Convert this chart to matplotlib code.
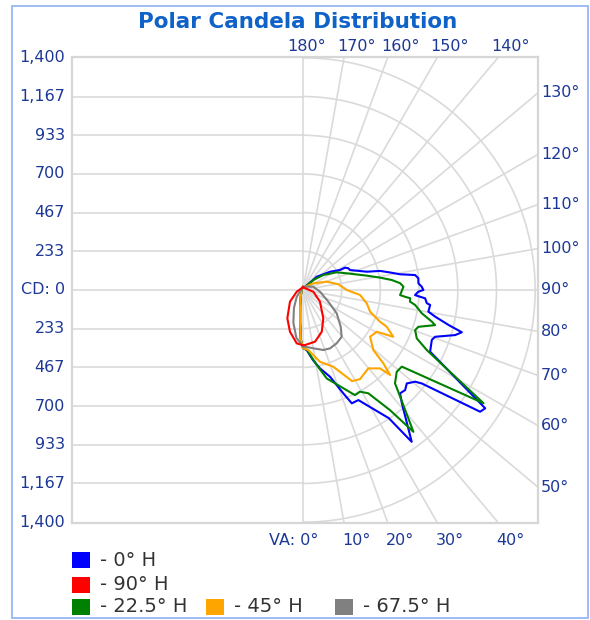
import numpy as np
import matplotlib
matplotlib.use("Agg")
import matplotlib.pyplot as plt
from matplotlib.patches import Rectangle

plt.rcParams["font.family"] = ["DejaVu Sans"]

# ring values (candela) and vertical-angle spokes
cd_rings = [233.33, 466.67, 700.0, 933.33, 1166.67, 1400.0]
va_ticks = list(range(0, 190, 10))

# vertical angle (deg) / candela; negative angles = opposite half plane
h0_va = [180, 146, 134, 124, 118.4, 118, 115.6, 113, 106, 103.9, 101.4, 99.2,
         97.6, 95.8, 93.3, 91.6, 90, 89.2, 87.4, 86.7, 86.1, 83.9, 83.3, 80.2,
         78.6, 76.5, 75.1, 73.5, 70.5, 68.8, 64.1, 57, 55.5, 51.8, 50.7, 48,
         45.6, 43.2, 41.1, 35.6, 33.8, 26.7, 23.3, 21.3, 17.3, 12.2, 8.1, 3.5,
         0, -2.5, -5, -10, -20, -40, -90, -180]
h0_cd = [18, 22, 115, 197, 254, 287, 303, 308, 400, 479, 535, 593,
         682, 699, 697, 716, 726, 696, 676, 707, 738, 751, 772, 767,
         813, 902, 991, 957, 845, 833, 852, 1310, 1296, 911, 873, 842,
         862, 855, 907, 1126, 930, 743, 744, 669, 548, 483, 427, 363,
         350, 300, 200, 100, 40, 15, 10, 18]

h90_va = [180, 150, 80.6, 55.5, 35.6, 24.2, 13.1, 2.1, 0, -6.7, -17.3, -29,
          -48, -74.9, -120, -180]
h90_cd = [18, 15, 63, 124, 210, 276, 320, 332, 333, 324, 264, 195,
          106, 39, 15, 18]

h225_va = [180, 146, 134.2, 126.5, 117.7, 110.9, 102.7, 99.1, 96.4, 94, 91.9,
           87, 86.2, 85.6, 83.8, 82.4, 78.9, 76.2, 75.1, 72.3, 70.3, 67, 64.1,
           57.9, 52.2, 48.9, 44.6, 43.1, 37.9, 35.9, 32.3, 29.3, 26.3, 15, 10,
           3.8, 0, -2.5, -5, -10, -20, -40, -90, -180]
h225_cd = [18, 22, 87, 152, 230, 282, 394, 471, 539, 587, 606,
           586, 617, 648, 649, 682, 730, 800, 824, 730, 718, 745, 830,
           1285, 754, 750, 790, 841, 1084, 894, 737, 703, 707, 552, 453,
           363, 350, 300, 195, 95, 38, 14, 10, 18]

h45_va = [180, 146, 123, 109.3, 99.2, 90, 85, 78.2, 72.1, 67.6, 66.3, 62.6,
          60.5, 55.1, 49.5, 47.6, 45.7, 44.5, 39.8, 32.6, 28.3, 21.6, 13.3, 5,
          0, -2.5, -5, -10, -20, -40, -90, -180]
h45_cd = [18, 22, 74, 152, 216, 264, 345, 393, 425, 502, 551, 613,
          511, 493, 558, 656, 734, 663, 615, 638, 624, 498, 445, 363,
          350, 300, 200, 100, 40, 15, 10, 18]

h675_va = [180, 146, 107.8, 84.3, 65.2, 55.3, 45.8, 39.6, 32.3, 24.8, 18.7,
           10, 2, 0, -8, -16.5, -27, -43, -90, -180]
h675_cd = [15, 25, 65, 103, 168, 247, 317, 366, 380, 388, 382,
           357, 342, 342, 290, 205, 120, 55, 12, 15]

series = [
    ("- 0° H", "#0000ff", h0_va, h0_cd),
    ("- 90° H", "#ff0000", h90_va, h90_cd),
    ("- 22.5° H", "#008000", h225_va, h225_cd),
    ("- 45° H", "#ffa500", h45_va, h45_cd),
    ("- 67.5° H", "#808080", h675_va, h675_cd),
]
draw_order = [0, 2, 3, 4, 1]

XMIN, XMAX, YMIN, YMAX = -1393, 1417, -1405, 1405
GRID = "#dadada"
TXT = "#1c3896"

fig = plt.figure(figsize=(5.9, 6.2), dpi=100)
fig.patches.append(Rectangle((12 / 590, 2 / 620), 576 / 590, 612 / 620,
                             transform=fig.transFigure, fill=False,
                             edgecolor="#8fb0f4", lw=1.2))
ax = fig.add_axes([72 / 590, 97 / 620, 466 / 590, 466 / 620])
ax.set_xlim(XMIN, XMAX)
ax.set_ylim(YMIN, YMAX)
ax.set_xticks([]); ax.set_yticks([])
for sp in ax.spines.values():
    sp.set_color("#d6d6d6"); sp.set_linewidth(1.6)

# left half: horizontal lines; right half: rings and spokes
for k in range(-5, 6):
    ax.plot([XMIN, 0], [k * cd_rings[0]] * 2, color=GRID, lw=1.2, zorder=1)
ax.plot([0, 0], [YMIN, YMAX], color=GRID, lw=1.2, zorder=1)
t = np.radians(np.linspace(0, 180, 200))
for r in cd_rings:
    ax.plot(r * np.sin(t), -r * np.cos(t), color=GRID, lw=1.2, zorder=1)
for a in va_ticks[1:-1]:
    ar = np.radians(a)
    ax.plot([0, 4000 * np.sin(ar)], [0, -4000 * np.cos(ar)], color=GRID,
            lw=1.2, zorder=1)

for i in draw_order:
    name, col, va, cd = series[i]
    va = np.radians(va); cd = np.asarray(cd, float)
    ax.plot(cd * np.sin(va), -cd * np.cos(va), color=col, lw=1.5, zorder=3)

# candela labels
for k in range(-6, 7):
    v = k * cd_rings[0]
    lab = "CD: 0" if k == 0 else f"{round(abs(v)):,}"
    ax.text(-1435, v, lab, ha="right", va="center", fontsize=11.5, color=TXT)

# vertical angle labels, placed where each spoke meets the frame
for a in va_ticks:
    ar = np.radians(a)
    s, c = np.sin(ar), -np.cos(ar)
    lab = f"{a}°"
    if a == 0:
        ax.text(90, YMIN - 103, "VA: 0°", ha="right", va="center",
                fontsize=11.5, color=TXT)
    elif a == 180:
        ax.text(20, YMAX + 62, lab, ha="center", va="center",
                fontsize=11.5, color=TXT)
    elif 50 <= a <= 130:
        ax.text(XMAX + 18, XMAX * c / s, lab, ha="left", va="center",
                fontsize=11.5, color=TXT)
    elif a > 130:
        ax.text(YMAX * s / c - 42, YMAX + 62, lab, ha="left",
                va="center", fontsize=11.5, color=TXT)
    else:
        ax.text(-YMIN * np.tan(ar) - 12, YMIN - 103, lab, ha="left",
                va="center", fontsize=11.5, color=TXT)

fig.text(298 / 590, 1 - 22 / 620, "Polar Candela Distribution", ha="center",
         va="center", fontsize=15.5, fontweight="bold", color="#0e62c8")

# legend
leg_pos = [(72, 552), (72, 577), (72, 599), (206, 599), (335, 599)]
for (name, col, _, _), (px, py) in zip(series, leg_pos):
    fig.patches.append(Rectangle((px / 590, 1 - (py + 16) / 620), 18 / 590,
                                 16 / 620, transform=fig.transFigure,
                                 facecolor=col, edgecolor="none"))
    fig.text((px + 28) / 590, 1 - (py + 8) / 620, name, ha="left",
             va="center", fontsize=14, color="#333333")

fig.savefig("out.png", dpi=100)
